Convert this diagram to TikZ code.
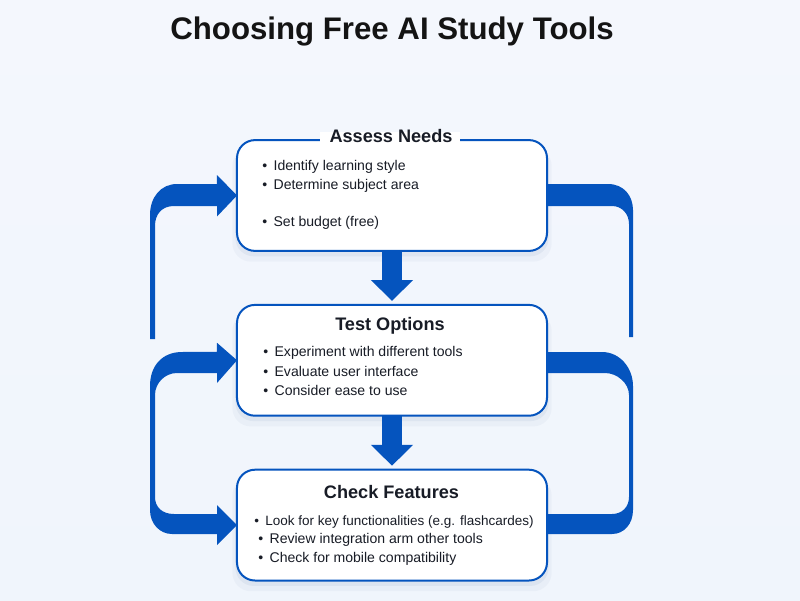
\documentclass[tikz,border=0pt]{standalone}
\usepackage{fontspec}
\setmainfont{Liberation Sans}
\usetikzlibrary{arrows.meta, positioning, calc, shadows}
\definecolor{flowblue}{RGB}{5,84,190}
\definecolor{inktext}{RGB}{24,28,38}
\definecolor{bgtop}{RGB}{244,247,253}
\definecolor{bgbottom}{RGB}{240,245,252}

\begin{document}
\begin{tikzpicture}[
  x=0.25mm, y=-0.25mm,
  block/.style = {draw=flowblue, fill=white, line width=0.5mm, rounded corners=4.5mm, minimum width=77.5mm, minimum height=27.7mm, outer sep=0pt, inner sep=0pt,
    drop shadow={shadow xshift=0mm, shadow yshift=-2.2mm, shadow scale=1.03, opacity=0.03, fill=flowblue!60!black},
    drop shadow={shadow xshift=0mm, shadow yshift=-1.2mm, shadow scale=1.01, opacity=0.05, fill=flowblue!60!black}},
  heading/.style = {font=\fontsize{12.9pt}{14pt}\selectfont\bfseries, text=inktext, inner sep=0pt},
  item/.style = {font=\fontsize{10pt}{12pt}\selectfont, text=inktext, anchor=west, inner sep=0pt},
  arrow/.style = {draw=flowblue, line width=4.8mm, -{Triangle[length=5.2mm, width=10.2mm]}, shorten >=1mm},
  flow/.style = {fill=flowblue}
]

  % Background
  \shade[top color=bgtop, bottom color=bgbottom, shading angle=0] (0,0) rectangle (800,600);
  \useasboundingbox (0,0) rectangle (800,600);

  % Title
  \node[font=\fontsize{22.2pt}{26pt}\selectfont\bfseries, text=black!92, inner sep=0pt] (title) at (392,31) {Choosing Free AI Study Tools};

  % Boxes
  \node[block] (assess) at (392,195.5) {};
  \node[block, below=13.5mm of assess] (test) {};
  \node[block, below=13.5mm of test] (check) {};

  % Assess Needs
  \node[fill=white, minimum width=35mm, minimum height=4mm, inner sep=0pt] (gap) at (389.5,140) {};
  \node[heading] (assesstitle) at (391,136) {Assess Needs};
  \node[item] (assess1) at (262,167) {\textbullet\hspace{1.6mm}Identify learning style};
  \node[item] (assess2) at (262,186) {\textbullet\hspace{1.6mm}Determine subject area};
  \node[item] (assess3) at (262,223) {\textbullet\hspace{1.6mm}Set budget (free)};

  % Test Options
  \node[heading] (testtitle) at (390,326) {Test Options};
  \node[item] (test1) at (263,353) {\textbullet\hspace{1.6mm}Experiment with different tools};
  \node[item] (test2) at (263,371) {\textbullet\hspace{1.6mm}Evaluate user interface};
  \node[item] (test3) at (263,390) {\textbullet\hspace{1.6mm}Consider ease to use};

  % Check Features
  \node[heading] (checktitle) at (391.5,492) {Check Features};
  \node[item, font=\fontsize{9.6pt}{12pt}\selectfont] (check1) at (254,522) {\textbullet\hspace{1.6mm}Look for key functionalities (e.g. flashcardes)};
  \node[item] (check2) at (258,540) {\textbullet\hspace{1.6mm}Review integration arm other tools};
  \node[item] (check3) at (258,559) {\textbullet\hspace{1.6mm}Check for mobile compatibility};

  % Downward arrows
  \draw[arrow] (assess.south) -- (test.north);
  \draw[arrow] (test.south) -- (check.north);

  % Return into assess
  \fill[flow] (assess.west) -- ++(-20,-20.5) -- ++(0,9) -- ++(-40,0)
    .. controls ++(-16,0) and ++(0,-18) .. (150,215) -- (150,339) -- (155,339) -- (155,226)
    .. controls ++(0,-12) and ++(-12,0) .. (174,206) -- (217,206) -- ++(0,10.5) -- cycle;

  % Line from assess to the right
  \fill[flow] (assess.east|-0,184) -- (608,184)
    .. controls ++(16,0) and ++(0,-14) .. (633,210) -- (633,337) -- (629,337) -- (629,224)
    .. controls ++(0,-10) and ++(10,0) .. (612,206) -- (assess.east|-0,206) -- cycle;

  % Loop on the left, test and check
  \fill[flow] (test.west) -- ++(-20,-17.5) -- ++(0,9) -- (182,352)
    .. controls ++(-20,0) and ++(0,-20) .. (150,386) -- (150,510)
    .. controls ++(0,14) and ++(-12,0) .. (172,534) -- (217,534) -- (217,545) -- (check.west) -- (217,505) -- (217,514) -- (174,514)
    .. controls ++(-12,0) and ++(0,10) .. (155,497) -- (155,395)
    .. controls ++(0,-12) and ++(-12,0) .. (177,373) -- (217,373) -- (217,383) -- cycle;

  % Loop on the right, test and check
  \fill[flow] (test.east|-0,352) -- (602,352)
    .. controls ++(18,0) and ++(0,-18) .. (633,386) -- (633,510)
    .. controls ++(0,14) and ++(12,0) .. (612,534) -- (check.east|-0,534) -- (check.east|-0,514) -- (612,514)
    .. controls ++(10,0) and ++(0,10) .. (629,497) -- (629,395)
    .. controls ++(0,-12) and ++(12,0) .. (605,373) -- (test.east|-0,373) -- cycle;

\end{tikzpicture}
\end{document}
